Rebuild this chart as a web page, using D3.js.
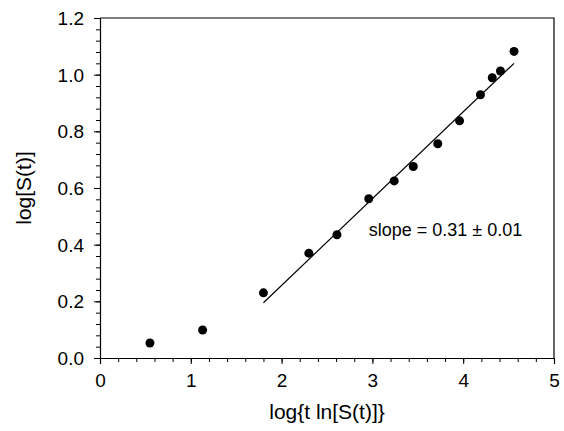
<!DOCTYPE html>
<html><head>
<meta charset="utf-8">
<script src="https://d3js.org/d3.v7.min.js"></script>
<style>
  body { margin: 0; background: #fff; }
  text { font-family: "Liberation Sans", Arial, sans-serif; fill: #000; }
</style>
</head>
<body>
<div id="chart"></div>
<script>
// data
var xVals = [0.55, 1.13, 1.80, 2.30, 2.61, 2.96, 3.24, 3.45, 3.72, 3.96, 4.19, 4.32, 4.41, 4.56];
var yVals = [0.053, 0.099, 0.230, 0.370, 0.435, 0.562, 0.625, 0.676, 0.756, 0.837, 0.929, 0.989, 1.013, 1.082];
var fitX = [1.80, 4.56];
var fitY = [0.195, 1.040];
var xTicks = [0, 1, 2, 3, 4, 5];
var yTicks = [0.0, 0.2, 0.4, 0.6, 0.8, 1.0, 1.2];
var slopeLabel = "slope = 0.31 \u00b1 0.01";

var W = 564, H = 431;
var margin = {top: 18, right: 10, bottom: 73, left: 100};
var width = W - margin.left - margin.right;
var height = H - margin.top - margin.bottom;

var svg = d3.select("#chart").append("svg")
    .attr("width", W)
    .attr("height", H);

var g = svg.append("g")
    .attr("transform", "translate(" + margin.left + "," + margin.top + ")");

var x = d3.scaleLinear().domain([0, 5]).range([0, width]);
var y = d3.scaleLinear().domain([0, 1.2]).range([height, 0]);

// minor ticks
var xMinor = d3.range(0, 5.001, 0.2);
var yMinor = d3.range(0, 1.2001, 0.04);

g.append("g")
    .attr("transform", "translate(0," + height + ")")
    .call(d3.axisBottom(x).tickValues(xMinor).tickSize(4).tickFormat(""))
    .call(function(s) { s.select(".domain").remove(); });

g.append("g")
    .call(d3.axisLeft(y).tickValues(yMinor).tickSize(4).tickFormat(""))
    .call(function(s) { s.select(".domain").remove(); });

// major ticks + labels
var xAxis = g.append("g")
    .attr("transform", "translate(0," + height + ")")
    .call(d3.axisBottom(x).tickValues(xTicks).tickSize(6).tickPadding(10).tickFormat(d3.format("d")));
xAxis.selectAll("text").style("font-size", "19px");

var yAxis = g.append("g")
    .call(d3.axisLeft(y).tickValues(yTicks).tickSize(6).tickPadding(10).tickFormat(d3.format(".1f")));
yAxis.selectAll("text").style("font-size", "19px").attr("dy", "0.35em");

g.selectAll(".domain").attr("stroke", "#000").attr("stroke-width", 1.2);
g.selectAll(".tick line").attr("stroke", "#000");

// top and right frame
g.append("path")
    .attr("d", "M0,0H" + width + "V" + height)
    .attr("fill", "none")
    .attr("stroke", "#000")
    .attr("stroke-width", 1.2);

// fit line
g.append("line")
    .attr("x1", x(fitX[0])).attr("y1", y(fitY[0]))
    .attr("x2", x(fitX[1])).attr("y2", y(fitY[1]))
    .attr("stroke", "#000")
    .attr("stroke-width", 1.2);

// points
g.selectAll("circle")
    .data(xVals)
    .enter().append("circle")
    .attr("cx", function(d) { return x(d); })
    .attr("cy", function(d, i) { return y(yVals[i]); })
    .attr("r", 4.5)
    .attr("fill", "#000");

// annotation
g.append("text")
    .attr("x", x(2.96))
    .attr("y", y(0.43))
    .style("font-size", "18px")
    .text(slopeLabel);

// axis titles
svg.append("text")
    .attr("x", margin.left + x(2.5))
    .attr("y", 419)
    .attr("text-anchor", "middle")
    .style("font-size", "21px")
    .text("log{t ln[S(t)]}");

svg.append("text")
    .attr("transform", "translate(31," + (margin.top + y(0.6)) + ") rotate(-90)")
    .attr("text-anchor", "middle")
    .style("font-size", "21px")
    .text("log[S(t)]");
</script>
</body></html>
